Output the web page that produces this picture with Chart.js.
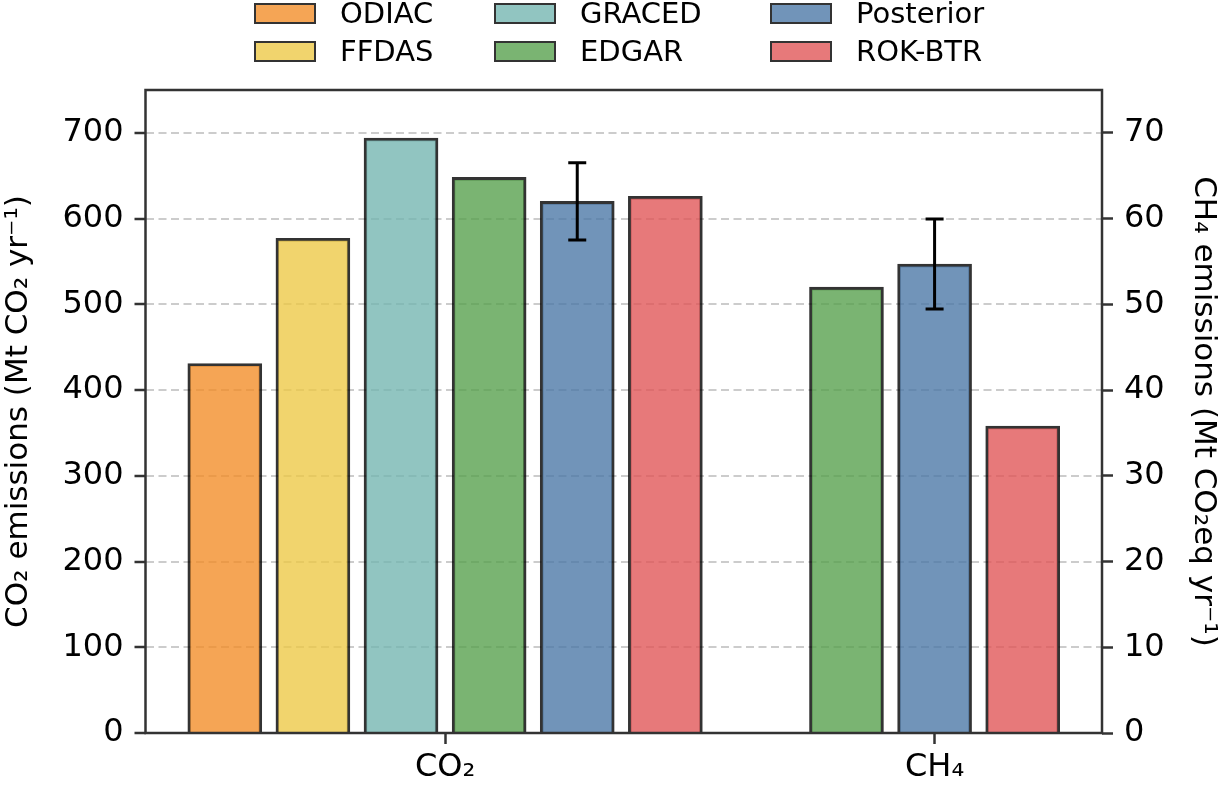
<!DOCTYPE html>
<html>
<head>
<meta charset="utf-8">
<script src="https://cdn.jsdelivr.net/npm/chart.js@4.4.1/dist/chart.umd.min.js"></script>
<style>
  body { margin: 0; background: #fff; }
  #wrap { position: relative; width: 1225px; height: 789px; }
  #legend {
    position: absolute; left: 254px; top: -6px;
    display: grid; grid-auto-flow: column;
    grid-template-rows: 38.4px 38.4px;
    grid-template-columns: 240px 276px auto;
    font-family: "DejaVu Sans", sans-serif; font-size: 29px; color: #000;
  }
  .item { display: flex; align-items: center; line-height: 38.4px; }
  .swatch { box-sizing: border-box; width: 62px; height: 21px; border: 2.5px solid #333; margin-right: 24px; }
</style>
</head>
<body>
<div id="wrap">
  <canvas id="chart" width="1225" height="789"></canvas>
  <div id="legend"></div>
</div>
<script>
// categories on the x axis
const gases = ["CO₂", "CH₄"];

// CO2 emissions, Mt CO2 / yr (left axis)
const co2Series = ["ODIAC", "FFDAS", "GRACED", "EDGAR", "Posterior", "ROK-BTR"];
const co2Values = [431, 577, 694, 648, 620, 626];
const co2Err = [null, null, null, null, 45, null];

// CH4 emissions, Mt CO2eq / yr (right axis)
const ch4Series = ["EDGAR", "Posterior", "ROK-BTR"];
const ch4Values = [52.0, 54.7, 35.8];
const ch4Err = [null, 5.25, null];

// tick labels
const co2Ticks = [0, 100, 200, 300, 400, 500, 600, 700];
const ch4Ticks = [0, 10, 20, 30, 40, 50, 60, 70];

const colors = {
  "ODIAC": "rgba(242,142,43,0.8)",
  "FFDAS": "rgba(237,201,72,0.8)",
  "GRACED": "rgba(118,183,178,0.8)",
  "EDGAR": "rgba(89,161,79,0.8)",
  "Posterior": "rgba(78,121,167,0.8)",
  "ROK-BTR": "rgba(225,87,89,0.8)",
};

const barStep = 0.18;
const font = { family: "DejaVu Sans", size: 32 };
const titleFont = { family: "DejaVu Sans", size: 31 };

function makeBar(name, gasIdx, slot, nSlots, value, err, axis) {
  return {
    label: name,
    data: [{ x: gasIdx + (slot - (nSlots - 1) / 2) * barStep, y: value }],
    errors: [err],
    yAxisID: axis,
    backgroundColor: colors[name],
    borderColor: "rgba(0,0,0,0.8)",
    borderWidth: 2.8,
  };
}

const datasets = [];
co2Series.forEach((s, i) => datasets.push(makeBar(s, 0, i, co2Series.length, co2Values[i], co2Err[i], "y")));
ch4Series.forEach((s, j) => datasets.push(makeBar(s, 1, j, ch4Series.length, ch4Values[j], ch4Err[j], "y2")));

const extras = {
  id: "extras",
  afterDatasetsDraw(chart) {
    const ctx = chart.ctx;
    chart.data.datasets.forEach((ds, di) => {
      const meta = chart.getDatasetMeta(di);
      const ys = chart.scales[ds.yAxisID];
      ds.errors.forEach((err, k) => {
        if (err == null) return;
        const bx = meta.data[k].x;
        const v = ds.data[k].y;
        const t = ys.getPixelForValue(v + err);
        const b = ys.getPixelForValue(v - err);
        ctx.save();
        ctx.strokeStyle = "#000";
        ctx.lineWidth = 3;
        ctx.beginPath();
        ctx.moveTo(bx, t); ctx.lineTo(bx, b);
        ctx.moveTo(bx - 9, t); ctx.lineTo(bx + 9, t);
        ctx.moveTo(bx - 9, b); ctx.lineTo(bx + 9, b);
        ctx.stroke();
        ctx.restore();
      });
    });
  },
  afterDraw(chart) {
    const a = chart.chartArea;
    const ctx = chart.ctx;
    ctx.save();
    ctx.strokeStyle = "#333";
    ctx.lineWidth = 2.5;
    ctx.strokeRect(a.left, a.top, a.right - a.left, a.bottom - a.top);
    ctx.restore();
  },
};

const tickGrid = { tickLength: 11, tickWidth: 2.5, tickColor: "#333", tickBorderDash: [] };

new Chart(document.getElementById("chart"), {
  type: "bar",
  data: { datasets },
  options: {
    responsive: false,
    animation: false,
    layout: { padding: { top: 90, left: 0, right: 0, bottom: 0 } },
    datasets: { bar: { grouped: false, barThickness: 74 } },
    plugins: { legend: { display: false }, tooltip: { enabled: false } },
    scales: {
      x: {
        type: "linear",
        offset: false,
        bounds: "data",
        min: -0.612,
        max: 1.342,
        afterBuildTicks: (s) => { s.ticks = gases.map((g, i) => ({ value: i })); },
        afterFit: (s) => { s.height = 56; },
        ticks: { callback: (v, i) => gases[i], font, color: "#000", padding: 4, autoSkip: false, maxRotation: 0 },
        grid: { offset: false, drawOnChartArea: false, ...tickGrid },
        border: { display: false },
      },
      y: {
        position: "left",
        min: 0,
        max: 750,
        afterBuildTicks: (s) => { s.ticks = co2Ticks.map((v) => ({ value: v })); },
        afterFit: (s) => { s.width = 145.5; },
        ticks: { font, color: "#000", padding: 11 },
        grid: { color: "rgba(170,170,170,0.6)", lineWidth: 2, ...tickGrid },
        border: { display: false, dash: [8, 4.5] },
        title: { display: true, text: "CO₂ emissions (Mt CO₂ yr⁻¹)", font: titleFont, color: "#000", padding: { top: 0, bottom: 0 } },
      },
      y2: {
        position: "right",
        min: 0,
        max: 75,
        afterBuildTicks: (s) => { s.ticks = ch4Ticks.map((v) => ({ value: v })); },
        afterFit: (s) => { s.width = 123; },
        ticks: { font, color: "#000", padding: 11 },
        grid: { drawOnChartArea: false, ...tickGrid },
        border: { display: false },
        title: { display: true, text: "CH₄ emissions (Mt CO₂eq yr⁻¹)", font: titleFont, color: "#000", padding: { top: 3, bottom: 0 } },
      },
    },
  },
  plugins: [extras],
});

// legend: 3 columns x 2 rows, filled column by column like the original
const legend = document.getElementById("legend");
co2Series.forEach((s) => {
  const item = document.createElement("div");
  item.className = "item";
  const sw = document.createElement("span");
  sw.className = "swatch";
  sw.style.background = colors[s];
  const tx = document.createElement("span");
  tx.textContent = s;
  item.appendChild(sw);
  item.appendChild(tx);
  legend.appendChild(item);
});
</script>
</body>
</html>
